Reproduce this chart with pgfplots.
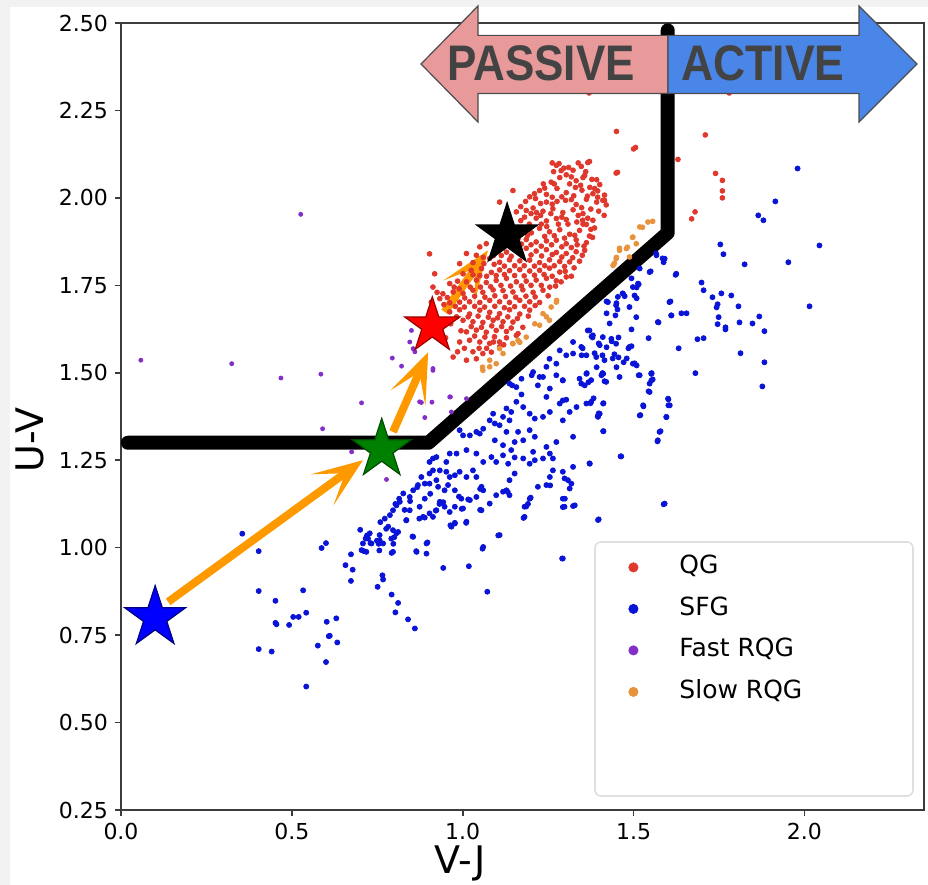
\documentclass[border=0pt]{standalone}
\usepackage{fontspec}
\setmainfont{DejaVu Sans}
\newfontfamily\bannerfont{Liberation Sans}
\usepackage{graphicx}
\usepackage{pgfplots}
\pgfplotsset{compat=1.18}
\usetikzlibrary{arrows.meta}

\definecolor{qgred}{RGB}{224,56,44}
\definecolor{sfgblue}{RGB}{10,20,215}
\definecolor{fastpur}{RGB}{132,46,200}
\definecolor{sloworg}{RGB}{232,146,60}
\definecolor{arroworange}{RGB}{255,153,0}
\definecolor{passpink}{RGB}{232,154,154}
\definecolor{actblue}{RGB}{74,134,232}
\definecolor{bantext}{RGB}{67,67,67}
\definecolor{axgray}{RGB}{60,60,60}

\pgfdeclareplotmark{fstar}{%
  \pgfpathmoveto{\pgfpointpolar{90}{\pgfplotmarksize}}%
  \pgfpathlineto{\pgfpointpolar{126}{0.382\pgfplotmarksize}}%
  \pgfpathlineto{\pgfpointpolar{162}{\pgfplotmarksize}}%
  \pgfpathlineto{\pgfpointpolar{198}{0.382\pgfplotmarksize}}%
  \pgfpathlineto{\pgfpointpolar{234}{\pgfplotmarksize}}%
  \pgfpathlineto{\pgfpointpolar{270}{0.382\pgfplotmarksize}}%
  \pgfpathlineto{\pgfpointpolar{306}{\pgfplotmarksize}}%
  \pgfpathlineto{\pgfpointpolar{342}{0.382\pgfplotmarksize}}%
  \pgfpathlineto{\pgfpointpolar{18}{\pgfplotmarksize}}%
  \pgfpathlineto{\pgfpointpolar{54}{0.382\pgfplotmarksize}}%
  \pgfpathclose
  \pgfusepathqfillstroke
}

\begin{document}
\begin{tikzpicture}
\path[use as bounding box] (0,0) rectangle (464pt,442.5pt);
\fill[gray!10] (0,0) rectangle (5pt,442.5pt);
\fill[gray!10] (0,439pt) rectangle (464pt,442.5pt);
\begin{axis}[
  at={(60.5pt,37.5pt)}, anchor=south west,
  scale only axis, width=401.5pt, height=393.5pt,
  xmin=0, xmax=2.35, ymin=0.25, ymax=2.5,
  axis line style={axgray, line width=0.8pt},
  tick style={axgray, line width=0.8pt},
  major tick length=3pt, tick align=outside, tick pos=left,
  xtick={0,0.5,1,1.5,2}, xticklabels={0.0,0.5,1.0,1.5,2.0},
  ytick={0.25,0.5,0.75,1,1.25,1.5,1.75,2,2.25,2.5},
  yticklabels={0.25,0.50,0.75,1.00,1.25,1.50,1.75,2.00,2.25,2.50},
  /pgf/number format/assume math mode=true,
  ticklabel style={font=\fontsize{11}{13}\selectfont, text=black},
  xlabel={V-J}, ylabel={U-V},
  every axis x label/.style={at={(axis description cs:0.422,0)}, anchor=north, yshift=-14.2pt, font=\fontsize{19}{22}\selectfont},
  every axis y label/.style={at={(axis description cs:-0.113,0.47)}, anchor=center, rotate=90, font=\fontsize{19}{22}\selectfont},
  legend style={at={(0.6227,0.3286)}, anchor=north west, draw=none, fill=none, inner sep=0pt,
    row sep=5.15pt, column sep=5pt, font=\fontsize{12.5}{15}\selectfont,
    nodes={inner sep=2pt, text height=9pt, text depth=2.6pt}},
  legend cell align=left,
  legend image code/.code={\path[draw=none,fill=none] (0pt,0pt) -- (22pt,0pt); \path[#1, draw=none] plot coordinates {(6pt,0pt)}; \draw[#1, mark size=2.3pt] plot[only marks] coordinates {(6pt,0pt)};},
]
% QG
\addplot[only marks, mark=*, mark size=1.2pt, color=qgred] coordinates {
(1.274,2.093) (1.296,2.085) (1.323,2.079) (1.347,2.090) (1.371,2.104) (1.357,2.064) (1.303,2.066) (1.284,2.058) (1.266,2.075) (1.332,2.049) (1.378,2.053) (1.401,2.038) (1.259,2.045) (1.313,2.040) (1.345,2.036) (1.449,2.071)
(1.225,2.021) (1.245,2.010) (1.276,2.027) (1.303,2.015) (1.325,2.006) (1.349,2.022) (1.381,2.012) (1.410,1.993) (1.420,1.980) (1.392,1.988) (1.362,1.996) (1.332,1.981) (1.301,1.993) (1.276,1.990) (1.245,1.988) (1.213,1.998) (1.196,2.003) (1.147,2.021) (1.108,1.988)
(1.186,1.964) (1.206,1.971) (1.235,1.962) (1.264,1.969) (1.293,1.958) (1.323,1.966) (1.352,1.955) (1.381,1.936) (1.362,1.924) (1.334,1.931) (1.303,1.938) (1.274,1.941) (1.245,1.934) (1.215,1.942) (1.181,1.945) (1.157,1.960)
(1.176,1.907) (1.201,1.900) (1.225,1.913) (1.254,1.903) (1.284,1.909) (1.313,1.896) (1.342,1.907) (1.371,1.891) (1.386,1.914) (1.362,1.872) (1.332,1.880) (1.303,1.869) (1.274,1.879) (1.245,1.877) (1.215,1.874) (1.186,1.881) (1.162,1.883) (1.050,1.860) (1.069,1.869)
(1.098,1.850) (1.128,1.845) (1.157,1.852) (1.186,1.856) (1.215,1.848) (1.245,1.852) (1.274,1.844) (1.303,1.841) (1.332,1.846) (1.357,1.850) (1.342,1.819) (1.313,1.817) (1.284,1.818) (1.254,1.823) (1.225,1.815) (1.196,1.822) (1.167,1.820) (1.137,1.823) (1.108,1.816) (1.079,1.827) (1.040,1.836) (1.011,1.841) (0.991,1.812)
(1.001,1.783) (1.025,1.793) (1.055,1.798) (1.084,1.787) (1.108,1.794) (1.137,1.792) (1.167,1.795) (1.196,1.791) (1.225,1.793) (1.254,1.799) (1.284,1.788) (1.303,1.774) (1.274,1.763) (1.245,1.770) (1.215,1.765) (1.186,1.762) (1.157,1.760) (1.128,1.770) (1.098,1.764) (1.069,1.758) (1.040,1.765) (1.011,1.760) (0.962,1.755) (0.913,1.745)
(0.942,1.726) (0.972,1.731) (1.001,1.727) (1.030,1.736) (1.059,1.730) (1.089,1.737) (1.118,1.735) (1.147,1.731) (1.176,1.737) (1.206,1.730) (1.235,1.736) (1.225,1.701) (1.196,1.703) (1.167,1.707) (1.137,1.701) (1.108,1.703) (1.079,1.707) (1.050,1.701) (1.020,1.703) (0.991,1.702) (0.962,1.700) (0.933,1.712) (0.908,1.702)
(0.962,1.674) (0.991,1.680) (1.020,1.668) (1.050,1.679) (1.079,1.673) (1.108,1.669) (1.137,1.680) (1.167,1.668) (1.196,1.679) (1.147,1.645) (1.118,1.646) (1.089,1.650) (1.059,1.644) (1.030,1.646) (1.001,1.650)
(1.011,1.617) (1.040,1.622) (1.069,1.616) (1.098,1.621) (1.128,1.618) (1.157,1.607) (1.050,1.588) (1.079,1.584) (1.108,1.588) (1.020,1.593) (0.991,1.588) (1.084,1.559) (1.059,1.555) (1.011,1.536) (1.040,1.540) (0.972,1.545) (1.108,1.574) (1.162,1.612) (0.903,1.840) (0.918,1.783)
(1.288,2.078) (1.318,2.060) (1.360,2.075) (1.240,2.028) (1.290,2.003) (1.318,1.995) (1.365,2.005) (1.395,2.002) (1.262,1.982) (1.228,1.984) (1.200,1.955) (1.228,1.950) (1.258,1.955) (1.290,1.945) (1.338,1.950) (1.366,1.942) (1.308,1.925) (1.280,1.925) (1.230,1.925) (1.195,1.925) (1.170,1.935) (1.190,1.893) (1.240,1.890) (1.268,1.892) (1.298,1.885) (1.328,1.893) (1.355,1.862) (1.318,1.858) (1.290,1.860) (1.260,1.866) (1.230,1.862) (1.200,1.866) (1.172,1.868) (1.143,1.860)
(1.113,1.835) (1.142,1.833) (1.172,1.838) (1.200,1.837) (1.231,1.834) (1.262,1.838) (1.290,1.831) (1.322,1.829) (1.326,1.800) (1.298,1.804) (1.268,1.806) (1.240,1.806) (1.210,1.805) (1.180,1.806) (1.152,1.806) (1.122,1.805) (1.092,1.810) (1.062,1.812) (1.030,1.815)
(1.070,1.776) (1.098,1.778) (1.122,1.781) (1.152,1.778) (1.180,1.777) (1.210,1.779) (1.238,1.781) (1.262,1.776) (1.288,1.760) (1.230,1.750) (1.200,1.750) (1.172,1.748) (1.140,1.748) (1.112,1.750) (1.082,1.746) (1.052,1.745) (1.022,1.745) (0.990,1.740)
(0.955,1.715) (1.006,1.714) (1.035,1.719) (1.065,1.716) (1.094,1.720) (1.125,1.718) (1.155,1.716) (1.185,1.719) (1.212,1.717) (1.181,1.690) (1.152,1.689) (1.122,1.686) (1.094,1.690) (1.064,1.688) (1.035,1.690) (1.005,1.688) (0.978,1.690)
(1.016,1.660) (1.045,1.662) (1.075,1.659) (1.102,1.657) (1.132,1.660) (1.160,1.655) (1.025,1.632) (1.055,1.630) (1.085,1.634) (1.114,1.632) (1.142,1.628) (1.035,1.605) (1.065,1.602) (1.093,1.603) (1.005,1.570) (1.070,1.570) (1.030,1.560)
(1.262,2.100) (1.282,2.098) (1.338,2.100) (1.310,2.087) (1.352,2.058) (1.392,2.052) (1.236,2.040) (1.268,2.040) (1.330,2.030) (1.372,2.030) (1.395,2.020) (1.415,2.008) (1.210,2.012) (1.184,1.990) (1.262,2.002) (1.348,1.972) (1.375,1.968) (1.398,1.962) (1.414,1.950) (1.170,1.975) (1.246,1.918) (1.216,1.958) (1.352,1.925) (1.375,1.910) (1.160,1.915) (1.140,1.900) (1.120,1.875)
(1.350,1.836) (1.335,1.866) (1.090,1.835) (1.060,1.830) (1.300,1.790) (1.318,1.776) (1.050,1.778) (1.030,1.780) (0.985,1.762) (0.975,1.745) (1.255,1.745) (1.272,1.748) (1.250,1.720) (0.945,1.695) (0.925,1.730) (1.212,1.692) (1.192,1.662) (0.982,1.660) (0.965,1.640) (1.176,1.630) (0.995,1.620) (1.128,1.600) (1.048,1.570) (1.090,1.588) (0.985,1.560) (1.120,1.580) (0.950,1.600)
(1.450,2.190) (1.500,2.140) (1.710,2.180) (1.780,2.300) (1.630,2.110) (1.740,2.070) (1.760,2.050) (1.760,2.020) (1.760,2.000) (1.680,1.960) (1.670,1.940) (1.370,2.300) (1.453,2.073) (1.366,2.101) (1.506,2.144) (1.386,2.027) (1.415,1.993) (1.351,1.936) (1.380,1.887)
};
\addlegendentry{QG}
% SFG
\addplot[only marks, mark=*, mark size=1.25pt, color=sfgblue] coordinates {
(1.145,1.464) (1.172,1.438) (1.202,1.493) (1.220,1.464) (1.235,1.488) (1.255,1.455) (1.274,1.493) (1.293,1.478) (1.245,1.431) (1.284,1.412) (1.293,1.421) (1.303,1.423) (1.255,1.388) (1.235,1.374) (1.211,1.369) (1.196,1.383) (1.177,1.402) (1.157,1.417) (1.128,1.398) (1.142,1.388)
(1.118,1.374) (1.089,1.383) (1.079,1.364) (1.094,1.355) (1.060,1.340) (1.040,1.331) (1.050,1.326) (1.021,1.321) (1.001,1.321) (0.991,1.336) (1.137,1.364) (1.108,1.350) (1.162,1.331) (1.128,1.331) (1.094,1.307) (1.118,1.293) (1.142,1.279) (1.152,1.302) (1.177,1.307) (1.196,1.336)
(1.211,1.317) (1.293,1.364) (1.313,1.388) (1.333,1.402) (1.362,1.412) (1.376,1.417) (1.411,1.412) (1.401,1.383) (1.396,1.374) (1.411,1.333) (1.347,1.469) (1.362,1.497) (1.411,1.497) (1.420,1.474) (1.518,1.493) (1.552,1.497) (1.552,1.478) (1.547,1.445) (1.528,1.407) (1.601,1.426)
(1.606,1.407) (1.596,1.374) (1.576,1.331) (1.571,1.307) (1.518,1.378) (1.464,1.261) (1.372,1.240) (1.323,1.231) (1.323,1.317) (1.274,1.302) (1.245,1.288) (1.255,1.269) (1.264,1.255) (1.235,1.255) (1.206,1.274) (1.211,1.250) (1.196,1.240) (1.177,1.255) (1.152,1.258) (1.133,1.240)
(1.118,1.264) (1.098,1.245) (1.084,1.259) (1.060,1.245) (1.040,1.269) (1.011,1.279) (0.982,1.269) (0.962,1.269) (0.952,1.245) (0.923,1.259) (0.913,1.255) (0.903,1.245) (0.933,1.221) (0.913,1.221) (0.903,1.212) (0.952,1.217) (0.962,1.202) (0.977,1.207) (0.991,1.217) (1.011,1.202)
(1.030,1.221) (1.040,1.202) (1.055,1.174) (1.060,1.164) (1.040,1.145) (1.021,1.136) (0.996,1.140) (0.977,1.164) (0.957,1.179) (0.947,1.164) (0.928,1.174) (0.923,1.193) (0.903,1.183) (0.889,1.183) (0.879,1.202) (0.869,1.179) (0.855,1.164) (0.845,1.145) (0.826,1.155) (0.816,1.131)
(0.806,1.121) (0.796,1.107) (0.787,1.093) (0.772,1.083) (0.782,1.060) (0.796,1.050) (0.806,1.041) (0.791,1.026) (0.757,1.036) (0.728,1.041) (0.723,1.026) (0.708,1.012) (0.704,0.993) (0.718,0.988) (0.733,1.012) (0.757,1.021) (0.767,1.012) (0.796,0.988) (0.855,1.031) (0.865,0.988)
(0.894,1.012) (0.835,1.079) (0.845,1.107) (0.874,1.117) (0.884,1.088) (0.903,1.098) (0.913,1.088) (0.923,1.107) (0.933,1.131) (0.947,1.117) (0.962,1.102) (0.977,1.117) (1.001,1.112) (1.011,1.074) (0.977,1.069) (0.967,1.060) (1.055,1.107) (1.079,1.126) (1.098,1.150) (1.118,1.160)
(1.137,1.193) (1.152,1.212) (1.128,1.164) (1.137,1.150) (1.181,1.117) (1.196,1.140) (1.181,1.088) (1.108,1.036) (1.060,1.002) (1.293,0.969) (1.220,1.174) (1.245,1.179) (1.255,1.202) (1.264,1.221) (1.293,1.217) (1.298,1.198) (1.308,1.193) (1.313,1.169) (1.318,1.183) (1.293,1.140)
(1.298,1.117) (1.328,1.121) (1.396,1.079) (1.591,1.126) (0.894,0.983)
(0.355,1.040) (0.403,0.990) (0.403,0.876) (0.452,0.848) (0.452,0.785) (0.455,0.781) (0.492,0.779) (0.504,0.802) (0.520,0.802) (0.533,0.878) (0.542,0.814) (0.403,0.710) (0.441,0.703) (0.542,0.603) (0.587,0.999) (0.600,1.013) (0.576,0.720) (0.602,0.788) (0.608,0.747) (0.611,0.748)
(0.630,0.798) (0.633,0.729) (0.600,0.673) (0.673,0.905) (0.678,0.937) (0.673,0.981) (0.657,0.950) (0.700,1.051) (0.711,0.990) (0.716,1.026) (0.720,1.035) (0.730,1.013) (0.749,1.020) (0.754,1.011) (0.756,0.992) (0.751,0.888) (0.765,0.921) (0.767,0.909) (0.792,0.866) (0.803,0.815)
(0.811,0.842) (0.840,0.795) (0.860,0.769) (0.792,0.985) (0.797,1.011) (0.800,1.030) (0.776,1.054) (0.811,1.045) (0.853,1.032) (0.864,0.990) (0.897,1.015) (0.943,0.942) (0.873,1.083) (0.889,1.086) (0.835,1.078) (0.759,1.073) (0.830,1.108) (0.803,1.125) (0.814,1.140) (0.846,1.133)
(0.889,1.140) (0.905,1.154) (0.921,1.106) (0.932,1.125) (0.943,1.130) (0.867,1.173) (0.964,1.064) (0.977,1.071) (0.997,1.111) (0.989,1.146) (1.010,1.071) (1.016,1.138) (1.051,1.108) (1.058,0.997) (1.018,0.947) (1.072,0.874) (1.104,1.035) (1.178,1.085) (1.186,1.118) (1.191,1.125)
(1.199,1.143) (1.291,0.969) (1.293,1.116) (1.299,1.140) (1.323,1.119) (1.256,1.178) (1.132,1.159) (1.051,1.168)
(1.980,2.084) (1.915,1.990) (1.865,1.950) (1.880,1.936) (2.044,1.864) (1.754,1.867) (1.763,1.839) (1.825,1.810) (1.953,1.816) (2.015,1.690) (1.623,1.780) (1.699,1.758) (1.705,1.736) (1.731,1.716) (1.757,1.727) (1.786,1.721) (1.746,1.696) (1.743,1.687) (1.807,1.690) (1.749,1.659)
(1.746,1.639) (1.769,1.630) (1.769,1.624) (1.810,1.644) (1.848,1.641) (1.868,1.661) (1.883,1.619) (1.687,1.596) (1.705,1.599) (1.632,1.570) (1.813,1.556) (1.883,1.530) (1.877,1.461) (1.681,1.499) (1.573,1.644) (1.608,1.704) (1.611,1.664) (1.640,1.670) (1.655,1.670) (1.544,1.599)
(1.550,1.790) (1.567,1.836) (1.585,1.827) (1.588,1.816) (1.494,1.770) (1.515,1.753) (1.509,1.744) (1.503,1.721) (1.509,1.713) (1.468,1.727) (1.474,1.719) (1.450,1.699) (1.453,1.681) (1.447,1.664) (1.430,1.641) (1.421,1.670) (1.421,1.704) (1.494,1.624) (1.456,1.601) (1.436,1.590)
(1.421,1.573) (1.398,1.584) (1.380,1.601) (1.371,1.621) (1.485,1.570) (1.494,1.576) (1.480,1.541) (1.444,1.553) (1.456,1.544) (1.471,1.530) (1.503,1.527) (1.509,1.521) (1.450,1.516) (1.409,1.499) (1.415,1.476) (1.406,1.493) (1.392,1.516) (1.363,1.499) (1.357,1.464) (1.368,1.473)
(1.386,1.556) (1.409,1.550) (1.377,1.604) (1.351,1.570) (1.348,1.550) (1.515,1.493) (1.553,1.499) (1.556,1.481) (1.544,1.447) (1.529,1.404) (1.520,1.379) (1.602,1.424) (1.602,1.407) (1.596,1.373) (1.579,1.333) (1.570,1.304) (1.383,1.427) (1.374,1.413) (1.412,1.413) (1.398,1.384)
(1.395,1.376) (1.412,1.333) (1.462,1.261) (1.371,1.241) (1.588,1.124) (1.398,1.081)
(1.566,1.841) (1.591,1.826) (1.625,1.783) (1.518,1.798) (1.547,1.788) (1.498,1.745) (1.513,1.755) (1.454,1.717) (1.469,1.726) (1.425,1.702) (1.449,1.693) (1.488,1.688) (1.508,1.659) (1.571,1.645) (1.605,1.702) (1.610,1.664) (1.366,1.621) (1.381,1.607) (1.410,1.602) (1.435,1.597)
(1.323,1.588) (1.347,1.574) (1.401,1.579) (1.449,1.583) (1.488,1.574) (1.284,1.564) (1.303,1.550) (1.323,1.555) (1.362,1.550) (1.391,1.545) (1.415,1.536) (1.439,1.541) (1.254,1.540) (1.274,1.526) (1.245,1.517) (1.206,1.502) (1.225,1.488) (1.172,1.483) (1.293,1.479) (1.342,1.483)
(1.376,1.479) (1.410,1.498) (1.459,1.488) (1.498,1.526) (1.552,1.498) (1.547,1.469) (1.137,1.469) (1.157,1.459)
};
\addlegendentry{SFG}
% Fast RQG
\addplot[only marks, mark=*, mark size=1.0pt, color=fastpur] coordinates {
(0.058,1.536) (0.324,1.526) (0.468,1.485) (0.585,1.496) (0.704,1.414) (0.590,1.340) (0.794,1.542) (0.821,1.519) (0.845,1.588) (0.855,1.569) (0.879,1.415) (0.910,1.416) (0.889,1.372) (0.964,1.431) (0.967,1.388) (0.913,1.507) (0.777,1.195) (0.675,1.274) (0.850,1.621) (0.526,1.953) (0.860,1.560) (0.913,1.512) (0.874,1.417) (0.962,1.431) (1.011,1.426)
};
\addlegendentry{Fast RQG}
% Slow RQG
\addplot[only marks, mark=*, mark size=1.2pt, color=sloworg] coordinates {
(1.459,1.850) (1.479,1.855) (1.488,1.831) (1.449,1.826) (1.498,1.888) (1.518,1.917) (1.542,1.931) (1.508,1.869) (1.440,1.807) (1.274,1.702) (1.259,1.688) (1.245,1.660) (1.225,1.636) (1.211,1.640) (1.162,1.593) (1.147,1.583) (1.118,1.555) (1.098,1.526) (1.079,1.517) (1.059,1.507) (1.108,1.569) (1.235,1.669) (1.186,1.602)
(1.556,1.933) (1.526,1.916) (1.497,1.887) (1.459,1.856) (1.450,1.830) (1.444,1.813) (1.482,1.859) (1.058,1.516) (1.079,1.536) (1.146,1.584) (1.167,1.587) (1.254,1.650) (1.275,1.707)
};
\addlegendentry{Slow RQG}
% UVJ boundary
\addplot[black, line width=7pt, line cap=round, line join=round, forget plot] coordinates {(0.02,1.3) (0.9,1.3) (1.6,1.9) (1.6,2.479)};
% evolution arrows
\addplot[arroworange, line width=4pt, -{Stealth[length=25pt,width=19pt,inset=14pt]}, forget plot] coordinates {(0.138,0.845) (0.708,1.250)};
\addplot[arroworange, line width=4pt, -{Stealth[length=25pt,width=19pt,inset=14pt]}, forget plot] coordinates {(0.796,1.331) (0.899,1.559)};
\addplot[arroworange, line width=4pt, -{Stealth[length=25pt,width=19pt,inset=14pt]}, forget plot] coordinates {(0.947,1.674) (1.074,1.850)};
% stars
\addplot[only marks, mark=fstar, mark size=16pt, mark options={fill=blue, draw=blue!50!black, line width=0.6pt}, forget plot] coordinates {(0.10,0.80)};
\addplot[only marks, mark=fstar, mark size=15.5pt, mark options={fill=green!50!black, draw=green!30!black, line width=0.6pt}, forget plot] coordinates {(0.763,1.281)};
\addplot[only marks, mark=fstar, mark size=14.5pt, mark options={fill=red, draw=red!60!black, line width=0.6pt}, forget plot] coordinates {(0.911,1.634)};
\addplot[only marks, mark=fstar, mark size=16pt, mark options={fill=black, draw=black, line width=0.6pt}, forget plot] coordinates {(1.130,1.894)};
\end{axis}
\begin{scope}[x=0.5pt, y=-0.5pt, shift={(0pt,442.5pt)}]
\draw[rounded corners=3pt, draw=gray!25, line width=0.8pt] (595,542) rectangle (913,796);
\draw[fill=passpink, draw=gray!60!black, line width=0.6pt] (421,64) -- (478,6) -- (478,35.4) -- (668,35.4) -- (668,93.6) -- (478,93.6) -- (478,122) -- cycle;
\draw[fill=actblue, draw=gray!60!black, line width=0.6pt] (668,35.4) -- (859,35.4) -- (859,6) -- (917,64) -- (859,122) -- (859,93.6) -- (668,93.6) -- cycle;
\node[font=\bannerfont\bfseries\fontsize{25}{25}\selectfont, text=bantext, inner sep=0pt] at (541,63) {\scalebox{0.88}[1]{PASSIVE}};
\node[font=\bannerfont\bfseries\fontsize{25}{25}\selectfont, text=bantext, inner sep=0pt] at (763,63) {\scalebox{0.89}[1]{ACTIVE}};
\end{scope}
\end{tikzpicture}
\end{document}
